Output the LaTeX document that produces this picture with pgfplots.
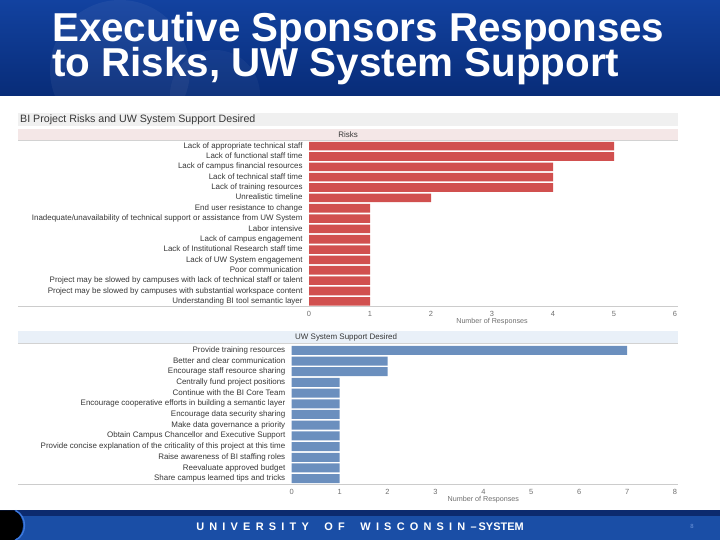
\documentclass[border=0pt]{standalone}
\usepackage{pgfplots}
\pgfplotsset{compat=1.18}
\usepackage{fontspec}
\setmainfont{Liberation Sans}

\definecolor{hdrtop}{RGB}{18,66,160}
\definecolor{hdrbot}{RGB}{8,44,120}
\definecolor{riskred}{RGB}{209,80,79}
\definecolor{supblue}{RGB}{107,143,190}
\definecolor{riskband}{RGB}{244,231,231}
\definecolor{supband}{RGB}{233,240,248}
\definecolor{ttlband}{RGB}{240,240,240}
\definecolor{lblgray}{RGB}{55,55,55}
\definecolor{tickgray}{RGB}{110,110,110}
\definecolor{footdark}{RGB}{12,42,110}
\definecolor{footblue}{RGB}{26,78,166}

\pgfplotsset{
  riskstyle/.style={
    scale only axis, xbar,
    axis line style={draw=none}, tick style={draw=none},
    y dir=reverse, ytick=data,
    /pgf/number format/assume math mode=true,
    yticklabel style={font=\fontsize{8}{8}\selectfont, text=lblgray, inner sep=0pt,
      text height=5.9bp, text depth=1.7bp, xshift=-2bp},
    xticklabel style={font=\fontsize{7.5}{8}\selectfont, text=tickgray, yshift=-1.5bp},
    xlabel={Number of Responses},
    xlabel style={font=\fontsize{7.2}{8}\selectfont, text=tickgray, at={(axis description cs:0.5,0)}, anchor=center},
  }
}

\newcommand{\gp}{\kern5.2bp}

\begin{document}
\begin{tikzpicture}[x=1bp,y=1bp]
\useasboundingbox (0,0) rectangle (720,540);

% header band
\shade[top color=hdrtop, bottom color=hdrbot] (0,444) rectangle (720,540);
\fill[white, opacity=0.05] (120,470) circle (70);
\fill[white, opacity=0.04] (215,445) circle (45);
\node[anchor=base west, inner sep=0, text=white, font=\fontsize{40.5}{40}\selectfont\bfseries] at (52,498) {Executive Sponsors Responses};
\node[anchor=base west, inner sep=0, text=white, font=\fontsize{40.5}{40}\selectfont\bfseries] at (52,463) {to Risks, UW System Support};

% dashboard title and section bands
\fill[ttlband] (18,414) rectangle (678,427);
\node[anchor=west, inner sep=0, text=lblgray, font=\fontsize{10.7}{11}\selectfont] at (20,420.5) {BI Project Risks and UW System Support Desired};
\fill[riskband] (18,399.5) rectangle (678,411);
\draw[gray!35, line width=0.5] (18,399.3) -- (678,399.3);
\node[inner sep=0, text=lblgray, font=\fontsize{8}{8}\selectfont] at (348,405.5) {Risks};

\fill[supband] (18,196.7) rectangle (678,209);
\draw[gray!35, line width=0.5] (18,196.5) -- (678,196.5);
\node[anchor=west, inner sep=0, text=lblgray, font=\fontsize{8}{8}\selectfont] at (295,203) {UW System Support Desired};

% baselines of the two bar panels
\draw[gray!40, line width=0.6] (18,233.5) -- (678,233.5);
\draw[gray!40, line width=0.6] (18,56) -- (678,56);

\begin{axis}[riskstyle,
    at={(309bp,233.5bp)}, anchor=south west,
    width=366bp, height=165.5bp,
    bar width=8.6bp,
    xmin=0, xmax=6, xtick={0,...,6},
    ymin=-0.5, ymax=15.5,
    xlabel style={yshift=-15.5bp},
    yticklabels={
      {Lack of appropriate technical staff},
      {Lack of functional staff time},
      {Lack of campus financial resources},
      {Lack of technical staff time},
      {Lack of training resources},
      {Unrealistic timeline},
      {End user resistance to change},
      {Inadequate/unavailability of technical support or assistance from UW System},
      {Labor intensive},
      {Lack of campus engagement},
      {Lack of Institutional Research staff time},
      {Lack of UW System engagement},
      {Poor communication},
      {Project may be slowed by campuses with lack of technical staff or talent},
      {Project may be slowed by campuses with substantial workspace content},
      {Understanding BI tool semantic layer}},
  ]
  \addplot[fill=riskred, draw=none] coordinates {
    (5,0) (5,1) (4,2) (4,3) (4,4) (2,5) (1,6) (1,7)
    (1,8) (1,9) (1,10) (1,11) (1,12) (1,13) (1,14) (1,15)
  };
\end{axis}

\begin{axis}[riskstyle,
    at={(291.7bp,56bp)}, anchor=south west,
    width=383.3bp, height=139bp,
    bar width=9bp,
    xmin=0, xmax=8, xtick={0,...,8},
    ymin=-0.5, ymax=12.5,
    xlabel style={yshift=-16bp},
    yticklabels={
      {Provide training resources},
      {Better and clear communication},
      {Encourage staff resource sharing},
      {Centrally fund project positions},
      {Continue with the BI Core Team},
      {Encourage cooperative efforts in building a semantic layer},
      {Encourage data security sharing},
      {Make data governance a priority},
      {Obtain Campus Chancellor and Executive Support},
      {Provide concise explanation of the criticality of this project at this time},
      {Raise awareness of BI staffing roles},
      {Reevaluate approved budget},
      {Share campus learned tips and tricks}},
  ]
  \addplot[fill=supblue, draw=none] coordinates {
    (7,0) (2,1) (2,2) (1,3) (1,4) (1,5) (1,6)
    (1,7) (1,8) (1,9) (1,10) (1,11) (1,12)
  };
\end{axis}

% footer band
\fill[footblue] (0,0) rectangle (720,29);
\fill[footdark] (0,24) rectangle (720,29.5);
\fill[black] (0,0) -- (14,0) .. controls (26,5) and (26,24) .. (14,29.5) -- (0,29.5) -- cycle;
\draw[color={rgb,255:red,60;green,120;blue,220}, line width=1.4] (15.5,0) .. controls (27.5,5) and (27.5,24) .. (15.5,29.5);
\node[inner sep=0, text=white, font=\fontsize{11}{11}\selectfont\bfseries] at (360,13) {U\gp N\gp I\gp V\gp E\gp R\gp S\gp I\gp T\gp Y\gp\gp\gp O\gp F\gp\gp\gp W\gp I\gp S\gp C\gp O\gp N\gp S\gp I\gp N\gp –\kern2bp SYSTEM};
\node[inner sep=0, text={rgb,255:red,110;green,150;blue,220}, font=\fontsize{6}{6}\selectfont] at (692,14) {8};
\end{tikzpicture}
\end{document}
